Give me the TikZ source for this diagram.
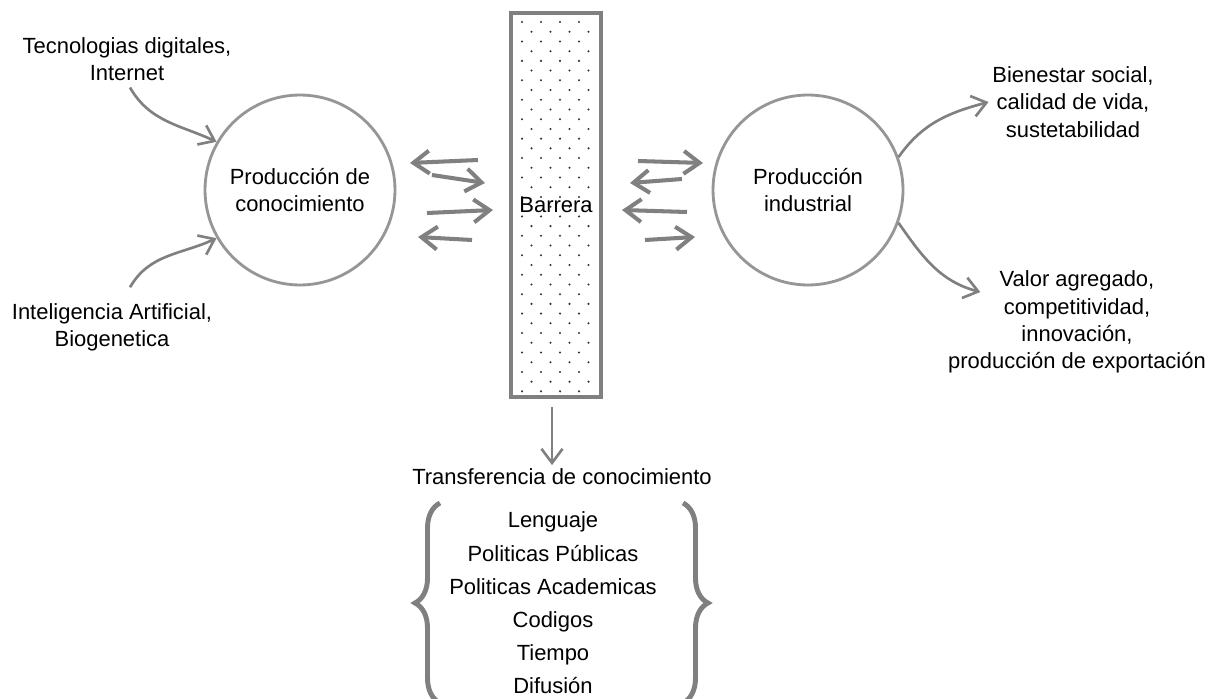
\documentclass[tikz,border=0pt]{standalone}
\usepackage{fontspec}
\setmainfont{Liberation Sans}
\usetikzlibrary{arrows.meta,calc,decorations.pathreplacing}
\definecolor{linegray}{RGB}{128,128,128}
\definecolor{ringgray}{RGB}{150,150,150}
\definecolor{dotgray}{RGB}{50,50,50}
\tikzset{
	txt/.style={align=center, font=\fontsize{12.5}{15.5}\selectfont, inner sep=2pt},
	bubble/.style={circle, draw=ringgray, line width=1.6pt, minimum size=3.8cm, inner sep=0pt, txt},
	flow/.style={draw=linegray, line width=1.5pt, -{Straight Barb[length=8pt,width=12pt]}},
	swap/.style={draw=linegray, line width=2.3pt, -{Straight Barb[length=9pt,width=13pt]}},
	bracket/.style={draw=linegray, line width=2.8pt, decorate, decoration={brace, amplitude=0.5cm}}
}

\begin{document}
\begin{tikzpicture}[x=0.02cm, y=-0.02cm]
		%%%%% START %%%%%
		\path[use as bounding box, fill=white] (0,0) rectangle (1216,699);
		
		% dots of the barrier
		\foreach \r in {0,...,38}
			\foreach \c in {0,...,3}
				\fill[dotgray] ({522+19*\c+9.5*mod(\r,2)}, {22+9.72*\r}) circle (0.65pt);
		\node[draw=linegray, line width=2.4pt, minimum width=1.8cm, minimum height=7.68cm, txt] (ba) at (556,205) {Barrera};
		
		\node[bubble] (pc) at (300,190) {Producción de\\conocimiento};
		\node[bubble] (pi) at (808,190) {Producción\\industrial};
		
		\node[txt] (td) at (127,59) {Tecnologias digitales,\\Internet};
		\node[txt] (ia) at (112,327) {Inteligencia Artificial,\\Biogenetica};
		\node[txt] (bs) at (1073,102) {Bienestar social,\\calidad de vida,\\sustetabilidad};
		\node[txt] (va) at (1077,322) {Valor agregado,\\competitividad,\\innovación,\\producción de exportación};
		
		\node[txt] (tc) at (562,477) {Transferencia de conocimiento};
		\node[txt, font=\fontsize{12.5}{18.9}\selectfont] (li) at (553,603) {Lenguaje\\Politicas Públicas\\Politicas Academicas\\Codigos\\Tiempo\\Difusión};
		
		\draw[flow] ($(td.south)+(3,3)$) to[out=-60, in=155] (pc.150);
		\draw[flow] ($(ia.north)+(18,-12)$) to[out=60, in=205] (pc.210);
		\draw[flow] (pi.20) to[out=55, in=195] (bs.west);
		\coordinate (vaIn) at ($(va.north west)+(36,25)$);
		\draw[flow] (pi.-20) to[out=-55, in=165] (vaIn);
		
		\draw[flow] ($(ba.south)+(-4,8)$) -- ($(tc.north)+(-10,0)$);
		
		% arrows across the barrier
		\draw[swap] (478,160) -- (410,163);
		\draw[swap] (432,175) -- (485,183);
		\draw[swap] (427,213) -- (493,210);
		\draw[swap] (472,240) -- (418,237);
		\draw[swap] (638,161) -- (703,163);
		\draw[swap] (682,179) -- (630,183);
		\draw[swap] (687,212) -- (622,210);
		\draw[swap] (645,240) -- (695,237);
		
		\draw[bracket] (440,703) -- (440,503);
		\draw[bracket] (683,503) -- (683,703);
		%%%%% END %%%%%
\end{tikzpicture}
\end{document}
